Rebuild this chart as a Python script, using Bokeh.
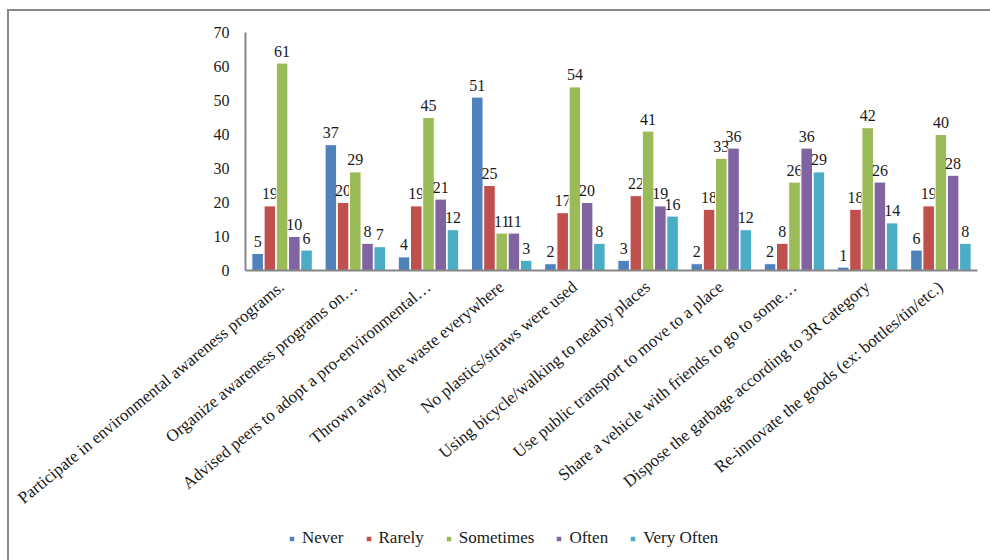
import math
from bokeh.plotting import figure
from bokeh.models import ColumnDataSource, Range1d, Legend, LegendItem, FixedTicker
from bokeh.core.properties import value
from bokeh.embed import file_html
from bokeh.resources import INLINE

categories = [
    "Participate in environmental awareness programs.",
    "Organize awareness programs on\u2026",
    "Advised peers to adopt a pro-environmental\u2026",
    "Thrown away the waste everywhere",
    "No plastics/straws were used",
    "Using bicycle/walking to nearby places",
    "Use public transport to move to a place",
    "Share a vehicle with friends to go to some\u2026",
    "Dispose the garbage according to 3R category",
    "Re-innovate the goods (ex: bottles/tin/etc.)",
]
series_names = ["Never", "Rarely", "Sometimes", "Often", "Very Often"]
never = [5, 37, 4, 51, 2, 3, 2, 2, 1, 6]
rarely = [19, 20, 19, 25, 17, 22, 18, 8, 18, 19]
sometimes = [61, 29, 45, 11, 54, 41, 33, 26, 42, 40]
often = [10, 8, 21, 11, 20, 19, 36, 36, 26, 28]
very_often = [6, 7, 12, 3, 8, 16, 12, 29, 14, 8]
y_ticks = [0, 10, 20, 30, 40, 50, 60, 70]

colors = ["#4F81BD", "#C0504D", "#9BBB59", "#8064A2", "#4BACC6"]
series_values = [never, rarely, sometimes, often, very_often]
offsets = [-0.334, -0.167, 0.0, 0.167, 0.334]
FONT = "Liberation Serif"

n = len(categories)
y_max = y_ticks[-1]

# layout (pixels): the frame fills the whole canvas, the axes sit inside it
W, H = 981, 549
ORIGIN_X, ORIGIN_Y = 236, 259          # canvas position of (0, 0)
PX_X = 732.0 / n                       # pixels per category
PX_Y = 238.0 / y_max                   # pixels per unit

p = figure(
    x_range=Range1d(-ORIGIN_X / PX_X, (W - ORIGIN_X) / PX_X),
    y_range=Range1d(-(H - ORIGIN_Y) / PX_Y, ORIGIN_Y / PX_Y),
    frame_width=W,
    frame_height=H,
    min_border=0,
    output_backend="svg",
    toolbar_location=None,
)
p.styles = {
    "margin-left": "7px",
    "margin-top": "9px",
    "border-left": "2px solid #888888",
    "border-top": "2px solid #888888",
}
p.outline_line_color = None
p.xgrid.grid_line_color = None
p.ygrid.grid_line_color = None

centers = [i + 0.5 for i in range(n)]
items = []
for name, vals, col, off in zip(series_names, series_values, colors, offsets):
    src = ColumnDataSource(dict(x=[c + off for c in centers], val=vals, lab=[str(v) for v in vals]))
    r = p.vbar(
        x="x",
        top="val",
        bottom=0,
        width=0.158,
        source=src,
        fill_color=col,
        line_color="white",
        line_width=1,
    )
    p.text(
        x="x",
        y="val",
        text="lab",
        source=src,
        text_align="center",
        text_baseline="alphabetic",
        y_offset=-12,
        text_font=value(FONT),
        text_font_size="16px",
        text_color="#1a1a1a",
    )
    items.append(LegendItem(label=name, renderers=[r]))

p.xaxis.ticker = FixedTicker(ticks=centers)
p.xaxis.major_label_overrides = {c: cat for c, cat in zip(centers, categories)}
p.xaxis.fixed_location = 0
p.xaxis.bounds = (0, n)
p.xaxis.major_label_orientation = math.radians(39.5)
p.xaxis.major_label_text_font = FONT
p.xaxis.major_label_text_font_size = "17px"
p.xaxis.major_label_text_color = "#1a1a1a"
p.xaxis.major_label_standoff = 14
p.xaxis.major_tick_in = 0
p.xaxis.major_tick_out = 0
p.xaxis.minor_tick_in = 0
p.xaxis.minor_tick_out = 0
p.xaxis.axis_line_color = "#868686"
p.xaxis.axis_line_width = 2

p.yaxis.ticker = FixedTicker(ticks=y_ticks)
p.yaxis.fixed_location = 0
p.yaxis.bounds = (0, y_max)
p.yaxis.major_label_text_font = FONT
p.yaxis.major_label_text_font_size = "16px"
p.yaxis.major_label_text_color = "#1a1a1a"
p.yaxis.major_label_standoff = 16
p.yaxis.major_tick_in = 0
p.yaxis.major_tick_out = 0
p.yaxis.minor_tick_in = 0
p.yaxis.minor_tick_out = 0
p.yaxis.axis_line_color = "#868686"
p.yaxis.axis_line_width = 2

legend = Legend(
    items=items,
    orientation="horizontal",
    location=(279, 12),
    glyph_width=7,
    glyph_height=7,
    label_standoff=7,
    spacing=21,
    padding=0,
    margin=0,
    border_line_color=None,
    background_fill_alpha=0,
    label_text_font=FONT,
    label_text_font_size="17px",
    label_text_color="#1a1a1a",
)
p.add_layout(legend, "center")

open("out.html", "w").write(file_html(p, INLINE))
